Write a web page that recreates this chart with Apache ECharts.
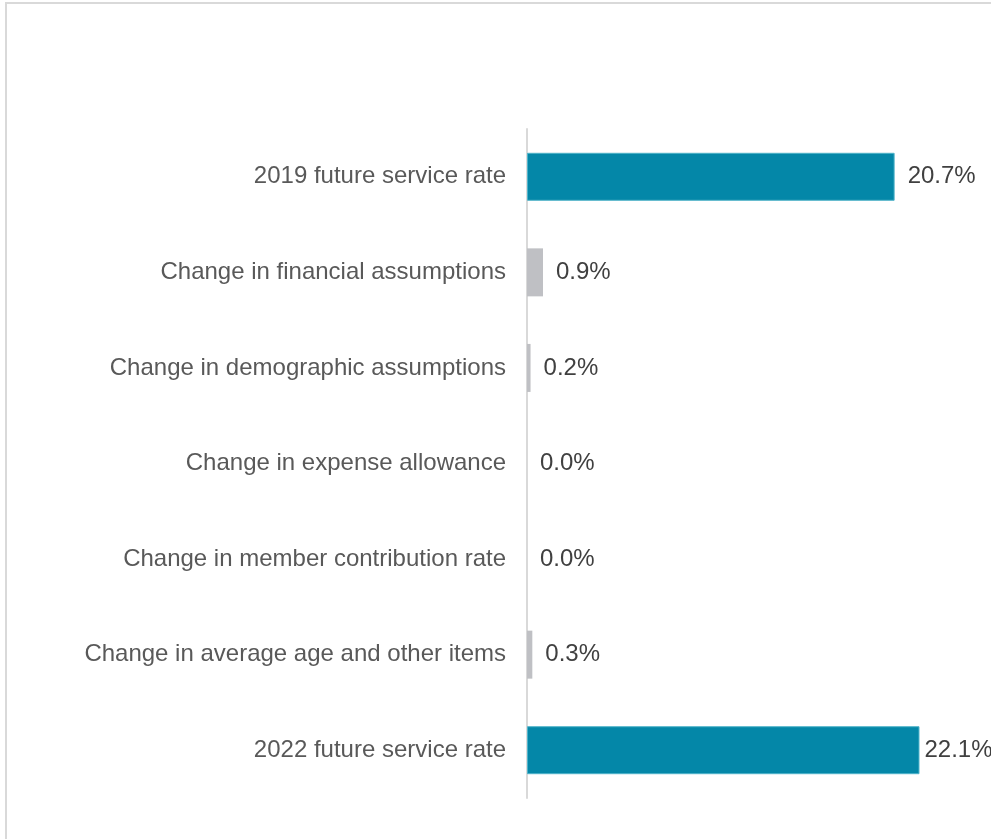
<!DOCTYPE html>
<html>
<head>
<meta charset="utf-8">
<script src="https://cdn.jsdelivr.net/npm/echarts@6/dist/echarts.min.js"></script>
<style>
  html, body { margin: 0; padding: 0; background: #fff; }
  #frame { position: absolute; left: 5px; top: 2px; width: 990px; height: 840px; border-left: 2px solid #d9d9d9; border-top: 2px solid #d9d9d9; }
  #container { position: absolute; left: 0; top: 0; width: 991px; height: 839px; }
</style>
</head>
<body>
<div id="frame"></div>
<div id="container"></div>
<script>
var categories = [
    '2019 future service rate',
    'Change in financial assumptions',
    'Change in demographic assumptions',
    'Change in expense allowance',
    'Change in member contribution rate',
    'Change in average age and other items',
    '2022 future service rate'
];
var values = [20.7, 0.9, 0.2, 0.0, 0.0, 0.3, 22.1];
var isTotal = [true, false, false, false, false, false, true];

var dom = document.getElementById('container');
var myChart = echarts.init(dom);

var seriesData = values.map(function (v, i) {
    var item = {
        value: v,
        itemStyle: isTotal[i]
            ? { color: '#0487a8', borderColor: '#4fb3c9', borderWidth: 1 }
            : { color: '#bfc0c4' }
    };
    // last bar: label sits close to the bar end
    if (i === values.length - 1) {
        item.label = { distance: 5 };
    }
    return item;
});

var option = {
    animation: false,
    grid: {
        left: 527,
        right: 20,
        top: 129,
        bottom: 41
    },
    xAxis: {
        type: 'value',
        min: 0,
        max: 25,
        show: false
    },
    yAxis: {
        type: 'category',
        inverse: true,
        data: categories,
        axisLine: { show: true, lineStyle: { color: '#d9d9d9', width: 2 } },
        axisTick: { show: false },
        axisLabel: {
            margin: 21,
            color: '#595959',
            fontFamily: 'Liberation Sans, Arial, sans-serif',
            fontSize: 24,
            padding: [8, 0, 0, 0]
        }
    },
    series: [{
        type: 'bar',
        data: seriesData,
        barWidth: 48,
        label: {
            show: true,
            position: 'right',
            distance: 13,
            color: '#404040',
            fontFamily: 'Liberation Sans, Arial, sans-serif',
            fontSize: 24,
            padding: [6, 0, 0, 0],
            formatter: function (p) {
                return p.value.toFixed(1) + '%';
            }
        }
    }]
};

myChart.setOption(option);
</script>
</body>
</html>
